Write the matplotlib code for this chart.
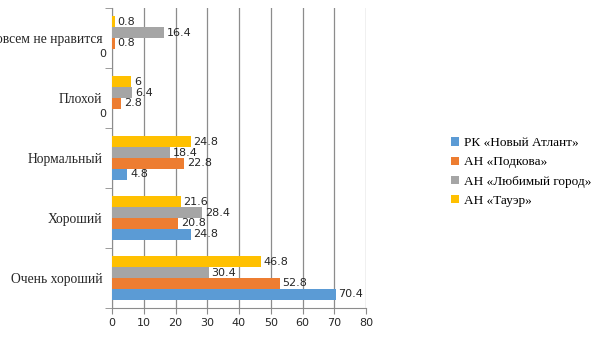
import matplotlib
matplotlib.use("Agg")
import matplotlib.pyplot as plt
import numpy as np

categories = ["Очень хороший", "Хороший", "Нормальный", "Плохой", "Совсем не нравится"]
series_names = ["РК «Новый Атлант»", "АН «Подкова»", "АН «Любимый город»", "АН «Тауэр»"]
novy_atlant = [70.4, 24.8, 4.8, 0, 0]
podkova = [52.8, 20.8, 22.8, 2.8, 0.8]
lyubimy_gorod = [30.4, 28.4, 18.4, 6.4, 16.4]
tauer = [46.8, 21.6, 24.8, 6, 0.8]
x_ticks = [0, 10, 20, 30, 40, 50, 60, 70, 80]

colors = ["#5B9BD5", "#ED7D31", "#A5A5A5", "#FFC000"]
series = [novy_atlant, podkova, lyubimy_gorod, tauer]

fig = plt.figure(figsize=(6.05, 3.4), dpi=100)
ax = fig.add_axes([112 / 605, 1 - 308 / 340, 254 / 605, 300 / 340])

y = np.arange(len(categories))
bh = 0.18
offsets = (np.arange(4) - 1.5) * bh

for vals, name, col, off in zip(series, series_names, colors, offsets):
    ax.barh(y + off, vals, height=bh, color=col, label=name, zorder=3)
    for yy, v in zip(y + off, vals):
        lbl = f"{v:g}"
        if v == 0:
            ax.annotate(lbl, (0, yy), xytext=(-4, 0), textcoords="offset points",
                        ha="right", va="center", fontsize=8, color="#262626")
        else:
            ax.annotate(lbl, (v, yy), xytext=(2, 0), textcoords="offset points",
                        ha="left", va="center", fontsize=8, color="#262626")

ax.set_xlim(0, 80)
ax.set_ylim(-0.5, len(categories) - 0.5)
ax.set_xticks(x_ticks)
ax.set_xticklabels([str(t) for t in x_ticks], fontsize=8, color="#262626")
ax.set_yticks(y)
ax.set_yticklabels(categories, fontsize=9.8, family="Liberation Serif", color="#262626")
ax.tick_params(axis="y", length=0, pad=7)
ax.tick_params(axis="x", length=4, color="#8c8c8c", pad=3)

# category boundary ticks on the value axis
ax.set_yticks(np.arange(-0.5, len(categories), 1.0), minor=True)
ax.tick_params(axis="y", which="minor", length=5, color="#8c8c8c")

ax.grid(axis="x", color="#8c8c8c", linewidth=0.9, zorder=0)
for s in ["top", "right"]:
    ax.spines[s].set_visible(False)
ax.spines["left"].set_color("#8c8c8c")
ax.spines["bottom"].set_color("#8c8c8c")

handles, labels = ax.get_legend_handles_labels()
fig.legend(handles, labels, loc="center left", bbox_to_anchor=(439 / 605, 1 - 172 / 340),
           frameon=False, prop={"family": "Liberation Serif", "size": 9.5},
           handlelength=0.6, handleheight=0.6, handletextpad=0.4, labelspacing=0.55)

fig.savefig("out.png", dpi=100)
